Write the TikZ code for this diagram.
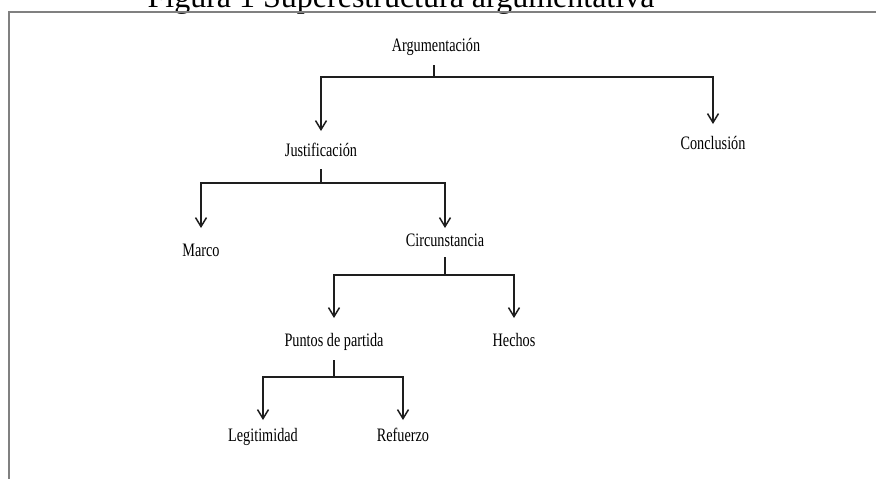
\documentclass[tikz,border=0pt]{standalone}
\usepackage{fontspec}
\setmainfont{Liberation Serif}
\newfontfamily\condfont[FakeStretch=0.75]{Liberation Serif}
\usetikzlibrary{arrows.meta}
\definecolor{framegray}{HTML}{808080}
\definecolor{inkc}{HTML}{1E1E1E}
\tikzset{
  lbl/.style={anchor=base, inner sep=0pt, font=\condfont\fontsize{19}{21}\selectfont, text=black},
  link/.style={draw=inkc, line width=1.6pt},
  arr/.style={link, -{Straight Barb[length=9pt,width=11pt,line width=1.5pt]}},
}
\begin{document}
\begin{tikzpicture}[x=1pt,y=-1pt]
\useasboundingbox (0,0) rectangle (876,479);
\clip (0,0) rectangle (876,479);
% title (cut off at top, as in the reference) and frame
\node[anchor=base, inner sep=0pt, font=\fontsize{32}{34}\selectfont] (title) at (401,7) {Figura 1 Superestructura argumentativa};
\draw[framegray, line width=2.2pt] (9,485) -- (9,12) -- (880,12);
% nodes
\node[lbl] (arg)  at (436,51)  {Argumentación};
\node[lbl] (just) at (321,156) {Justificación};
\node[lbl] (conc) at (713,149) {Conclusión};
\node[lbl] (marco) at (201,256) {Marco};
\node[lbl] (circ) at (445,246) {Circunstancia};
\node[lbl] (punt) at (334,346) {Puntos de partida};
\node[lbl] (hech) at (514,346) {Hechos};
\node[lbl] (legi) at (263,441) {Legitimidad};
\node[lbl] (refu) at (403,441) {Refuerzo};
% forks
\coordinate (fA) at ([xshift=-2pt]arg.base |- 0,77);
\coordinate (fB) at (just.base |- 0,183);
\coordinate (fC) at (circ.base |- 0,275);
\coordinate (fD) at (punt.base |- 0,377);
\draw[link] ([xshift=-2pt,yshift=-14pt]arg.base) -- (fA);
\draw[arr] (fA) -| ([yshift=25pt]just.base);
\draw[arr] (fA) -| ([yshift=25pt]conc.base);
\draw[link] ([yshift=-13pt]just.base) -- (fB);
\draw[arr] (fB) -| ([yshift=28pt]marco.base);
\draw[arr] (fB) -| ([yshift=18pt]circ.base);
\draw[link] ([yshift=-11pt]circ.base) -- (fC);
\draw[arr] (fC) -| ([yshift=28pt]punt.base);
\draw[arr] (fC) -| ([yshift=28pt]hech.base);
\draw[link] ([yshift=-14pt]punt.base) -- (fD);
\draw[arr] (fD) -| ([yshift=21pt]legi.base);
\draw[arr] (fD) -| ([yshift=21pt]refu.base);
\end{tikzpicture}
\end{document}
